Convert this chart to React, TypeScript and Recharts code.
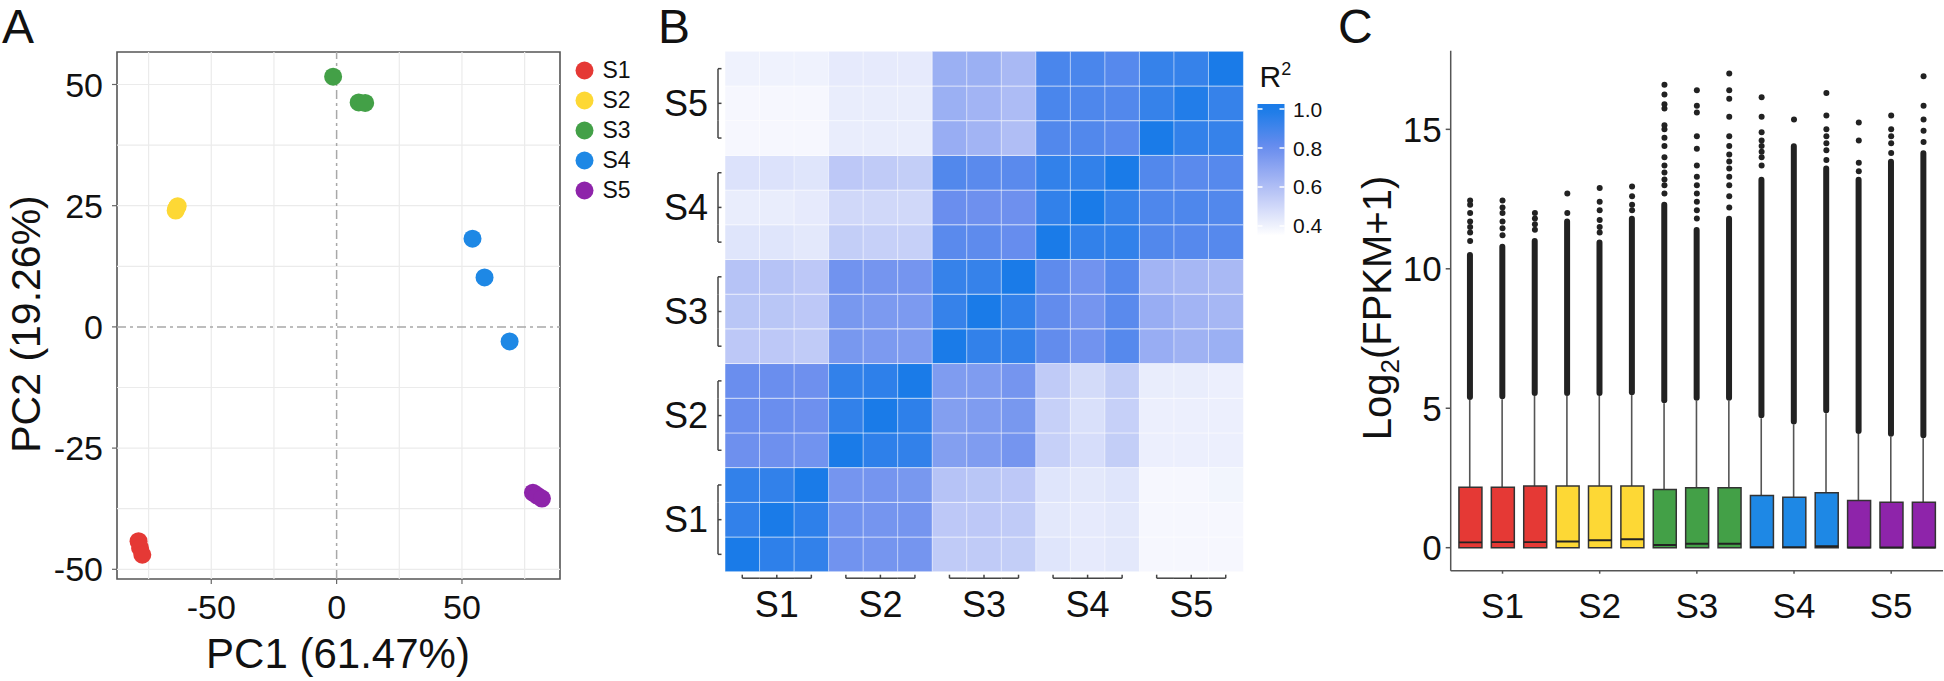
import React from 'react';
import {
  ScatterChart, Scatter, XAxis, YAxis, ReferenceLine, ReferenceArea, Legend,
  BarChart, Bar, Cell, ComposedChart,
} from 'recharts';

const FONT = '"Liberation Sans", Arial, Helvetica, sans-serif';
const INK = '#111111';
const AXIS_GREY = '#555555';

const GROUPS = ['S1', 'S2', 'S3', 'S4', 'S5'];
const GROUP_COLORS = ['#E53935', '#FDD835', '#43A047', '#1E88E5', '#8E24AA'];

// ---- Panel A: PCA scores, [PC1, PC2] per replicate
const PCA_S1 = [[-79.0, -44.2], [-78.4, -45.6], [-77.5, -47.0]];
const PCA_S2 = [[-64.2, 24.0], [-64.0, 24.4], [-63.4, 24.9]];
const PCA_S3 = [[-1.4, 51.6], [8.8, 46.3], [11.4, 46.2]];
const PCA_S4 = [[54.2, 18.2], [59.0, 10.2], [69.0, -3.0]];
const PCA_S5 = [[78.3, -34.2], [80.0, -34.8], [81.9, -35.4]];
const PCA_GROUPS = [PCA_S1, PCA_S2, PCA_S3, PCA_S4, PCA_S5];

const PC1_DOMAIN = [-87.6, 89.1];
const PC2_DOMAIN = [-52.0, 56.7];
const PC1_TICKS = [-50, 0, 50];
const PC2_TICKS = [-50, -25, 0, 25, 50];
const PC1_GRID = [-75, -50, -25, 25, 50, 75];
const PC2_GRID = [-50, -37.5, -25, -12.5, 12.5, 25, 37.5, 50];

// ---- Panel B: R^2 between replicates, rows listed top -> bottom (S5_3 ... S1_1),
// columns left -> right (S1_1 ... S5_3)
const R2_ROWS = [
  [0.40, 0.40, 0.40, 0.43, 0.43, 0.43, 0.66, 0.66, 0.62, 0.88, 0.88, 0.85, 0.93, 0.93, 1.00],
  [0.38, 0.38, 0.38, 0.42, 0.42, 0.42, 0.66, 0.64, 0.61, 0.88, 0.87, 0.86, 0.93, 0.98, 0.93],
  [0.38, 0.38, 0.38, 0.42, 0.42, 0.42, 0.67, 0.64, 0.60, 0.86, 0.86, 0.84, 1.00, 0.94, 0.93],
  [0.46, 0.46, 0.45, 0.56, 0.55, 0.54, 0.86, 0.84, 0.84, 0.94, 0.94, 1.00, 0.86, 0.84, 0.85],
  [0.42, 0.42, 0.43, 0.50, 0.50, 0.50, 0.80, 0.79, 0.79, 0.94, 1.00, 0.93, 0.87, 0.87, 0.86],
  [0.45, 0.45, 0.44, 0.54, 0.53, 0.53, 0.84, 0.83, 0.81, 1.00, 0.94, 0.94, 0.86, 0.85, 0.85],
  [0.58, 0.58, 0.56, 0.78, 0.77, 0.77, 0.93, 0.93, 1.00, 0.83, 0.78, 0.85, 0.64, 0.63, 0.62],
  [0.57, 0.57, 0.56, 0.76, 0.75, 0.75, 0.93, 1.00, 0.94, 0.82, 0.77, 0.84, 0.67, 0.64, 0.63],
  [0.56, 0.56, 0.55, 0.76, 0.75, 0.74, 1.00, 0.94, 0.94, 0.82, 0.78, 0.85, 0.67, 0.65, 0.66],
  [0.80, 0.80, 0.79, 0.94, 0.95, 1.00, 0.74, 0.74, 0.77, 0.55, 0.49, 0.54, 0.42, 0.42, 0.41],
  [0.80, 0.80, 0.79, 0.94, 1.00, 0.95, 0.73, 0.74, 0.76, 0.53, 0.47, 0.53, 0.41, 0.41, 0.41],
  [0.79, 0.79, 0.78, 1.00, 0.95, 0.94, 0.73, 0.74, 0.77, 0.53, 0.48, 0.54, 0.41, 0.41, 0.41],
  [0.94, 0.94, 1.00, 0.77, 0.77, 0.76, 0.58, 0.57, 0.56, 0.45, 0.44, 0.45, 0.38, 0.38, 0.39],
  [0.94, 1.00, 0.95, 0.78, 0.77, 0.77, 0.56, 0.56, 0.55, 0.44, 0.43, 0.44, 0.38, 0.38, 0.38],
  [1.00, 0.95, 0.94, 0.78, 0.77, 0.77, 0.55, 0.55, 0.54, 0.45, 0.43, 0.44, 0.38, 0.38, 0.38],
];
const R2_TICKS = [0.4, 0.6, 0.8, 1.0];
const R2_BAR_RANGE = [0.354, 1.026];

// ---- Panel C: log2(FPKM+1) box plots per replicate
const SAMPLE_IDS = ['S1-1', 'S1-2', 'S1-3', 'S2-1', 'S2-2', 'S2-3', 'S3-1', 'S3-2', 'S3-3',
  'S4-1', 'S4-2', 'S4-3', 'S5-1', 'S5-2', 'S5-3'];
const BOX_Q1 = [0, 0, 0, 0, 0, 0, 0, 0, 0, 0, 0, 0, 0, 0, 0];
const BOX_MEDIAN = [0.19, 0.2, 0.2, 0.22, 0.27, 0.3, 0.1, 0.14, 0.14, 0.02, 0.02, 0.05, 0.01, 0.01, 0.01];
const BOX_Q3 = [2.17, 2.17, 2.21, 2.21, 2.21, 2.21, 2.09, 2.15, 2.15, 1.87, 1.81, 1.97, 1.69, 1.63, 1.63];
const WHISKER_HI = [5.3, 5.32, 5.44, 5.44, 5.44, 5.47, 5.18, 5.27, 5.27, 4.64, 4.42, 4.82, 4.08, 3.98, 3.92];
// top of the solid run of overlapping outliers
const DENSE_OUTLIER_HI = [10.6, 10.9, 11.1, 11.8, 11.05, 11.9, 12.4, 11.5, 11.9, 13.3, 14.5, 13.7, 13.3, 13.95, 14.25];
const OUTLIERS = [
  [11.0, 11.3, 11.5, 11.7, 12.0, 12.3, 12.45],
  [11.2, 11.45, 11.7, 12.0, 12.2, 12.45],
  [11.4, 11.6, 11.8, 12.0],
  [12.0, 12.7],
  [11.3, 11.5, 11.75, 12.1, 12.4, 12.9],
  [12.1, 12.3, 12.6, 12.95],
  [12.7, 13.0, 13.2, 13.45, 13.7, 14.0, 14.4, 14.7, 15.0, 15.15, 15.75, 15.9, 16.25, 16.6],
  [11.8, 12.1, 12.4, 12.7, 13.0, 13.3, 13.7, 14.3, 14.75, 15.6, 15.85, 16.4],
  [12.2, 12.6, 13.0, 13.3, 13.6, 13.85, 14.1, 14.4, 14.75, 15.45, 16.1, 16.4, 17.0],
  [13.7, 14.0, 14.2, 14.4, 14.6, 14.9, 15.45, 16.15],
  [15.35],
  [13.9, 14.25, 14.5, 14.75, 15.0, 15.5, 16.3],
  [13.5, 13.8, 14.6, 15.25],
  [14.15, 14.5, 14.75, 15.0, 15.5],
  [14.55, 14.95, 15.35, 15.85, 16.9],
];
const LOG_TICKS = [0, 5, 10, 15];
const LOG_DOMAIN = [-0.825, 17.82];

// ---------- colour scale for R^2
const R2_STOPS: [number, number[]][] = [
  [0.35, [255, 255, 255]],
  [0.6, [176, 190, 245]],
  [0.8, [106, 142, 238]],
  [1.0, [26, 123, 232]],
];
function r2Color(v: number) {
  const t = Math.max(R2_STOPS[0][0], Math.min(1.0, v));
  for (let k = 1; k < R2_STOPS.length; k++) {
    const [v1, c1] = R2_STOPS[k];
    const [v0, c0] = R2_STOPS[k - 1];
    if (t <= v1) {
      const f = (t - v0) / (v1 - v0);
      const c = c0.map((a, i) => Math.round(a + (c1[i] - a) * f));
      return `rgb(${c[0]},${c[1]},${c[2]})`;
    }
  }
  const c = R2_STOPS[R2_STOPS.length - 1][1];
  return `rgb(${c[0]},${c[1]},${c[2]})`;
}

// ================= Panel A =================
function PcaLegend() {
  return (
    <div style={{ fontFamily: FONT }}>
      {GROUPS.map((g, i) => (
        <div key={g} style={{ display: 'flex', alignItems: 'center', height: 29.8 }}>
          <svg width={19} height={19}>
            <circle cx={9.5} cy={9.5} r={9} fill={GROUP_COLORS[i]} />
          </svg>
          <span style={{ marginLeft: 8.5, fontSize: 23, color: INK, lineHeight: '23px' }}>{g}</span>
        </div>
      ))}
    </div>
  );
}

function PcaPanel() {
  return (
    <ScatterChart width={700} height={681} margin={{ top: 52, right: 140, bottom: 42, left: 37 }}>
      <XAxis
        type="number" dataKey="x" domain={PC1_DOMAIN} ticks={PC1_TICKS} allowDataOverflow
        height={60} axisLine={false} tickSize={5} tickMargin={11}
        tickLine={{ stroke: '#666', strokeWidth: 1.2 }}
        tick={{ fontSize: 34, fill: INK, fontFamily: FONT }}
      />
      <YAxis
        type="number" dataKey="y" domain={PC2_DOMAIN} ticks={PC2_TICKS} allowDataOverflow
        width={80} axisLine={false} tickSize={5} tickMargin={9}
        tickLine={{ stroke: '#666', strokeWidth: 1.2 }}
        tick={{ fontSize: 34, fill: INK, fontFamily: FONT }}
      />
      {PC1_GRID.map(v => <ReferenceLine key={`gx${v}`} x={v} stroke="#EBEBEB" strokeWidth={1.2} />)}
      {PC2_GRID.map(v => <ReferenceLine key={`gy${v}`} y={v} stroke="#EBEBEB" strokeWidth={1.2} />)}
      <ReferenceLine x={0} stroke="#A8A8A8" strokeWidth={1.5} strokeDasharray="9 4 3 4" />
      <ReferenceLine y={0} stroke="#A8A8A8" strokeWidth={1.5} strokeDasharray="9 4 3 4" />
      <ReferenceArea
        x1={PC1_DOMAIN[0]} x2={PC1_DOMAIN[1]} y1={PC2_DOMAIN[0]} y2={PC2_DOMAIN[1]}
        fill="none" fillOpacity={0} stroke={AXIS_GREY} strokeWidth={1.6} strokeOpacity={1}
      />
      {PCA_GROUPS.map((pts, gi) => (
        <Scatter
          key={GROUPS[gi]}
          name={GROUPS[gi]}
          data={pts.map(([x, y]) => ({ x, y }))}
          fill={GROUP_COLORS[gi]}
          isAnimationActive={false}
          shape={(p: any) => <circle cx={p.cx} cy={p.cy} r={9} fill={GROUP_COLORS[gi]} />}
        />
      ))}
      <Legend
        layout="vertical" align="center" verticalAlign="middle"
        wrapperStyle={{ left: 575, top: 56, width: 90, height: 150, textAlign: 'left' }}
        content={() => <PcaLegend />}
      />
    </ScatterChart>
  );
}

// ================= Panel B =================
const HM_W = 518;
const HM_H = 520.4;
const ROW_H = HM_H / 15;
const COL_W = HM_W / 15;
const HM_COLS = SAMPLE_IDS.map((s, i) => {
  const o: any = { col: i };
  for (let j = 0; j < 15; j++) o[`r${j}`] = 1;
  return o;
});
const HM_ROW_KEYS = SAMPLE_IDS.map((_, j) => `r${j}`);
const HM_ROW_TICKS = SAMPLE_IDS.map((_, j) => j + 0.5);

function HeatRowTick(props: any) {
  const { x, y, payload } = props;
  const j = Math.round(payload.value - 0.5);
  const pos = j % 3;
  const bx = x - 7;
  const yTop = pos === 2 ? y : y - ROW_H / 2;
  const yBot = pos === 0 ? y : y + ROW_H / 2;
  return (
    <g>
      <line x1={bx} x2={bx} y1={yTop} y2={yBot} stroke="#444" strokeWidth={1.5} />
      <line x1={bx} x2={bx + 3.5} y1={y} y2={y} stroke="#444" strokeWidth={1.5} />
      {pos === 1 && (
        <text x={x - 17} y={y + 12.5} textAnchor="end" fontSize={36} fontFamily={FONT} fill={INK}>
          {GROUPS[Math.floor(j / 3)]}
        </text>
      )}
    </g>
  );
}

function HeatColTick(props: any) {
  const { x, y, index } = props;
  const pos = index % 3;
  const by = y + 6.5;
  const xL = pos === 0 ? x : x - COL_W / 2;
  const xR = pos === 2 ? x : x + COL_W / 2;
  return (
    <g>
      <line x1={xL} x2={xR} y1={by} y2={by} stroke="#444" strokeWidth={1.5} />
      <line x1={x} x2={x} y1={by} y2={by - 3.5} stroke="#444" strokeWidth={1.5} />
      {pos === 1 && (
        <text x={x} y={y + 45.5} textAnchor="middle" fontSize={36} fontFamily={FONT} fill={INK}>
          {GROUPS[Math.floor(index / 3)]}
        </text>
      )}
    </g>
  );
}

function HeatmapPanel() {
  return (
    <BarChart
      width={630} height={681} data={HM_COLS}
      margin={{ top: 51.3, right: 7, bottom: 49.3, left: 5 }}
      barCategoryGap={0} barGap={0}
    >
      <XAxis
        dataKey="col" height={60} axisLine={false} tickLine={false} tickSize={0} tickMargin={0}
        interval={0} tick={<HeatColTick />}
      />
      <YAxis
        type="number" domain={[0, 15]} ticks={HM_ROW_TICKS} width={100} interval={0}
        axisLine={false} tickLine={false} tickSize={0} tickMargin={0} tick={<HeatRowTick />}
      />
      {HM_ROW_KEYS.map((key, j) => (
        <Bar key={key} dataKey={key} stackId="hm" isAnimationActive={false}
          stroke="#ffffff" strokeOpacity={0.5} strokeWidth={1}>
          {HM_COLS.map((c, i) => (
            <Cell key={`${key}-${i}`} fill={r2Color(R2_ROWS[14 - j][i])} />
          ))}
        </Bar>
      ))}
    </BarChart>
  );
}

const CB_DATA = [{ k: 'R2', range: R2_BAR_RANGE }];
const CB_STEPS = 16;

function ColorBar() {
  return (
    <BarChart
      width={100} height={200} data={CB_DATA}
      margin={{ top: 44, right: 7.5, bottom: 25, left: 7.5 }}
      barCategoryGap={0}
    >
      <defs>
        <linearGradient id="r2grad" x1="0" y1="0" x2="0" y2="1">
          {Array.from({ length: CB_STEPS + 1 }, (_, k) => {
            const v = R2_BAR_RANGE[1] - (k / CB_STEPS) * (R2_BAR_RANGE[1] - R2_BAR_RANGE[0]);
            return <stop key={k} offset={`${(k / CB_STEPS) * 100}%`} stopColor={r2Color(v)} />;
          })}
        </linearGradient>
      </defs>
      <XAxis dataKey="k" hide />
      <YAxis
        orientation="right" type="number" domain={R2_BAR_RANGE} ticks={R2_TICKS} width={58}
        axisLine={false} tickLine={false} tickSize={0} tickMargin={8.5}
        tickFormatter={(v: number) => v.toFixed(1)}
        tick={{ fontSize: 21, fill: INK, fontFamily: FONT }}
      />
      <Bar dataKey="range" fill="url(#r2grad)" isAnimationActive={false} />
      {R2_TICKS.map(t => (
        <ReferenceLine key={t} y={t} stroke="#ffffff" strokeWidth={1.5} strokeDasharray="5 17 5" />
      ))}
    </BarChart>
  );
}

// ================= Panel C =================
const BOX_DATA = SAMPLE_IDS.map((s, i) => ({
  s,
  box: [BOX_Q1[i], BOX_Q3[i]],
  med: [BOX_MEDIAN[i] - 0.035, BOX_MEDIAN[i] + 0.035],
  whisker: [BOX_Q3[i], WHISKER_HI[i]],
  dense: [WHISKER_HI[i], DENSE_OUTLIER_HI[i]],
}));
const OUTLIER_POINTS = OUTLIERS.flatMap((vals, i) => vals.map(v => ({ x: i, y: v })));
const BOX_PAD = { left: 3.24, right: 3.24 };

function BoxSampleTick(props: any) {
  const { x, y, index } = props;
  if (index % 3 !== 1) return <g />;
  return (
    <g>
      <line x1={x} x2={x} y1={y} y2={y + 3} stroke={AXIS_GREY} strokeWidth={1.5} />
      <text x={x} y={y + 47} textAnchor="middle" fontSize={35} fontFamily={FONT} fill={INK}>
        {GROUPS[Math.floor(index / 3)]}
      </text>
    </g>
  );
}

function BoxPanel() {
  return (
    <ComposedChart
      width={644} height={681} data={BOX_DATA}
      margin={{ top: 50.7, right: 1, bottom: 50.3, left: 50.7 }}
    >
      <XAxis
        xAxisId="box" dataKey="s" height={60} padding={BOX_PAD} interval={0}
        axisLine={{ stroke: AXIS_GREY, strokeWidth: 1.5 }} tickLine={false} tickSize={0} tickMargin={0}
        tick={<BoxSampleTick />}
      />
      <XAxis xAxisId="wh" dataKey="s" padding={BOX_PAD} hide />
      <XAxis xAxisId="dense" dataKey="s" padding={BOX_PAD} hide />
      <XAxis xAxisId="med" dataKey="s" padding={BOX_PAD} hide />
      <XAxis xAxisId="pts" type="number" dataKey="x" domain={[-0.6, 14.6]} allowDataOverflow hide />
      <YAxis
        type="number" domain={LOG_DOMAIN} ticks={LOG_TICKS} allowDataOverflow width={100}
        axisLine={{ stroke: AXIS_GREY, strokeWidth: 1.5 }}
        tickLine={{ stroke: AXIS_GREY, strokeWidth: 1.5 }} tickSize={5} tickMargin={4}
        tick={{ fontSize: 35, fill: INK, fontFamily: FONT }}
      />
      <Bar xAxisId="wh" dataKey="whisker" barSize={1.6} fill="#555" isAnimationActive={false} />
      <Bar xAxisId="dense" dataKey="dense" barSize={6} fill="#222" radius={3} isAnimationActive={false} />
      <Bar xAxisId="box" dataKey="box" barSize={23} stroke="#333" strokeWidth={1.5} isAnimationActive={false}>
        {BOX_DATA.map((d, i) => (
          <Cell key={d.s} fill={GROUP_COLORS[Math.floor(i / 3)]} />
        ))}
      </Bar>
      <Bar xAxisId="med" dataKey="med" barSize={23} fill="#222" isAnimationActive={false} />
      <Scatter
        xAxisId="pts" data={OUTLIER_POINTS} dataKey="y" isAnimationActive={false}
        shape={(p: any) => <circle cx={p.cx} cy={p.cy} r={3} fill="#222" />}
      />
    </ComposedChart>
  );
}

export default function App() {
  return (
    <div style={{
      position: 'absolute', left: 0, top: 0, width: 1944, height: 681,
      background: '#ffffff', fontFamily: FONT, overflow: 'hidden',
    }}>
      <div style={{ position: 'absolute', left: 0, top: 0 }}><PcaPanel /></div>
      <div style={{ position: 'absolute', left: 620, top: 0 }}><HeatmapPanel /></div>
      <div style={{ position: 'absolute', left: 1250, top: 60 }}><ColorBar /></div>
      <div style={{ position: 'absolute', left: 1300, top: 0 }}><BoxPanel /></div>
      <svg width={1944} height={681} style={{ position: 'absolute', left: 0, top: 0, pointerEvents: 'none' }}
        fontFamily={FONT} fill={INK}>
        <text x={2} y={43} fontSize={48}>A</text>
        <text x={658} y={43} fontSize={48}>B</text>
        <text x={1338} y={43} fontSize={48}>C</text>
        <text x={338} y={668} fontSize={42} textAnchor="middle">PC1 (61.47%)</text>
        <text transform="translate(40,324) rotate(-90)" fontSize={41} textAnchor="middle">PC2 (19.26%)</text>
        <text transform="translate(1391,308) rotate(-90)" fontSize={40} textAnchor="middle">
          Log<tspan fontSize={26} dy={8}>2</tspan><tspan dy={-8}>(FPKM+1)</tspan>
        </text>
        <text x={1259.5} y={87} fontSize={30}>
          R<tspan fontSize={18} dy={-12}>2</tspan>
        </text>
      </svg>
    </div>
  );
}
